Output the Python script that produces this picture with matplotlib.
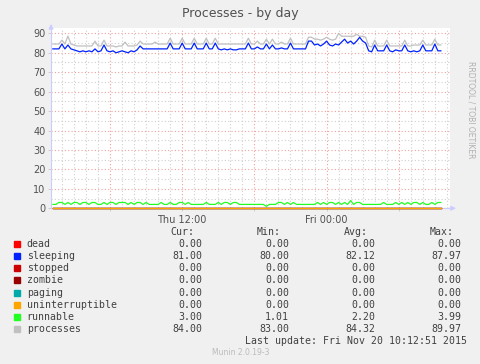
import matplotlib
matplotlib.use('Agg')
import matplotlib.pyplot as plt
import matplotlib.dates as mdates
import pandas as pd

# 15 minute samples
times = pd.date_range('2015-11-19 01:15', periods=130, freq='15min')

sleeping = [
    82, 82, 82, 84.5, 82, 84, 82, 81.5, 81, 80.5,
    81, 80.5, 81, 80.5, 82, 80.5, 81, 84, 81, 80.5,
    81, 80, 80.5, 81, 80.5, 80, 81, 80.5, 81.5, 83.5,
    82, 82, 82, 82, 82, 82, 82, 82, 82, 85,
    82, 82, 82, 85, 82, 82, 82, 85, 82, 82,
    82, 85, 82, 82, 85, 82, 81.5, 82, 81.5, 82,
    81.5, 81.5, 82, 82, 82, 85, 82, 82, 83, 82,
    82, 84.5, 82, 84, 82, 82, 82.5, 82, 82, 85,
    82, 82, 82, 82, 82, 86, 86, 84, 84.5, 83.5,
    84.5, 86, 84, 83.5, 84.5, 84, 85.5, 87, 85, 86,
    84.5, 86, 87.97, 86, 85, 81, 80.5, 84, 81, 81,
    81, 84, 81, 80.5, 81.5, 81, 81, 84, 81, 80.5,
    81, 80.5, 81, 84, 81, 81, 81, 84.5, 81, 81,
]

runnable = [
    2, 2, 3, 3, 2, 3, 2, 3, 3, 2,
    3, 3, 2, 3, 3, 2, 2, 3, 2, 3,
    3, 2, 3, 3, 3, 2, 3, 2, 3, 3,
    2, 3, 2, 2, 2, 2, 3, 2, 2, 3,
    2, 2, 3, 3, 2, 3, 2, 2, 2, 2,
    2, 3, 2, 2, 2, 3, 2, 3, 3, 2,
    3, 3, 2, 2, 2, 2, 2, 2, 2, 2,
    2, 1.01, 2, 2, 2, 3, 3, 2, 3, 2,
    3, 2, 2, 2, 2, 2, 2, 2, 3, 2,
    3, 2, 3, 3, 2, 3, 2, 3, 2, 3.99,
    2, 3, 3, 2, 2, 2, 2, 2, 2, 2,
    3, 2, 2, 2, 3, 2, 3, 2, 3, 2,
    3, 3, 2, 3, 2, 2, 3, 2, 3, 3,
]

processes = [
    84.5, 84.5, 84.5, 86.5, 84.5, 88.6, 84.5, 84, 83.5, 83.5,
    83.5, 83.5, 83.5, 83.5, 86, 83.5, 83.5, 86.5, 83.5, 83.5,
    83.5, 83, 83.5, 83.5, 85.5, 83.5, 83.5, 83.5, 84, 86,
    84.5, 84.5, 84.5, 84.5, 85.5, 84.5, 84.5, 84.5, 84.5, 87.5,
    84.5, 84.5, 84.5, 87.5, 84.5, 84.5, 84.5, 87.5, 84.5, 84.5,
    84.5, 87.5, 84.5, 84.5, 87.5, 84.5, 84.5, 84.5, 84.5, 84.5,
    84.5, 84.5, 84.5, 84.5, 84.5, 87.5, 84.5, 84.5, 86, 84.5,
    84.5, 87, 84.5, 87, 84.5, 84.5, 85.5, 84.5, 84.5, 87.5,
    84.5, 84.5, 84.5, 84.5, 84.5, 88, 88, 87, 87, 86.5,
    87, 88, 87, 86.5, 87, 89.97, 88.5, 88.5, 88.5, 88.5,
    88.5, 89.5, 88.5, 88.5, 88, 83.5, 83, 86.5, 83.5, 83.5,
    83.5, 86.5, 83.5, 83.5, 83.5, 83.5, 83.5, 86.5, 83.5, 83.5,
    84, 84, 84, 86.5, 84, 84, 84, 87, 84, 84,
]

# dead, stopped, zombie, paging, uninterruptible stay at 0 all day
zeros = [0.0] * 130

names = ['dead', 'sleeping', 'stopped', 'zombie', 'paging',
         'uninterruptible', 'runnable', 'processes']
colors = ['#FF0000', '#0022FF', '#CC0000', '#990000', '#00AAAA',
          '#FFA500', '#22FF22', '#C0C0C0']
cur = ['0.00', '81.00', '0.00', '0.00', '0.00', '0.00', '3.00', '84.00']
mins = ['0.00', '80.00', '0.00', '0.00', '0.00', '0.00', '1.01', '83.00']
avgs = ['0.00', '82.12', '0.00', '0.00', '0.00', '0.00', '2.20', '84.32']
maxs = ['0.00', '87.97', '0.00', '0.00', '0.00', '0.00', '3.99', '89.97']

series = [zeros, sleeping, zeros, zeros, zeros, zeros, runnable, processes]

W, H = 481, 364
fig = plt.figure(figsize=(W / 100, H / 100), dpi=100, facecolor='#F0F0F0')
ax = fig.add_axes([51 / W, 1 - 208.3 / H, 399 / W, 180.8 / H], facecolor='white')

# gray lines behind, blue on top like rrdtool
order = [7, 1, 0, 2, 3, 4, 5, 6]
for k in order:
    ax.plot(times, series[k], color=colors[k], lw=0.9, clip_on=False, zorder=3)

ax.set_ylim(0, 93)
ax.set_xlim(pd.Timestamp('2015-11-19 01:05:40'), pd.Timestamp('2015-11-20 10:15:40'))

ax.set_yticks(range(0, 91, 10))
ax.set_yticks(range(5, 90, 10), minor=True)
ax.xaxis.set_major_locator(mdates.HourLocator(byhour=range(0, 24, 6)))
ax.xaxis.set_minor_locator(mdates.HourLocator())


def fmt(x, pos):
    d = mdates.num2date(x)
    if d.hour in (0, 12):
        return d.strftime('%a %H:%M')
    return ''


ax.xaxis.set_major_formatter(plt.FuncFormatter(fmt))

dot = (0, (1, 2))
ax.grid(True, which='major', color='#F0A0A0', ls=dot, lw=0.8, zorder=1)
ax.grid(True, which='minor', color='#D0D0D0', ls=dot, lw=0.8, zorder=1)
ax.set_axisbelow(True)

ax.tick_params(which='both', length=2, width=0.6, color='#C8C8C8',
               labelsize=7, labelcolor='#505050', pad=2)
ax.tick_params(which='minor', length=0)
ax.tick_params(axis='x', pad=3)

for s in ['top', 'right']:
    ax.spines[s].set_visible(False)
for s in ['left', 'bottom']:
    ax.spines[s].set_color('#CCCCFF')
    ax.spines[s].set_linewidth(0.8)

ax.annotate('', xy=(0, 1.035), xytext=(0, 0.99), xycoords='axes fraction',
            arrowprops=dict(arrowstyle='-|>', color='#CCCCFF', lw=0.8,
                            mutation_scale=7))
ax.annotate('', xy=(1.022, 0), xytext=(0.99, 0), xycoords='axes fraction',
            arrowprops=dict(arrowstyle='-|>', color='#CCCCFF', lw=0.8,
                            mutation_scale=7))

fig.text(240 / W, 1 - 14 / H, 'Processes - by day', ha='center', va='center',
         fontsize=9, color='#505050')
fig.text(471 / W, 1 - 110 / H, 'RRDTOOL / TOBI OETIKER', rotation=270,
         ha='center', va='center', fontsize=5.5, color='#B0B0B0')

# legend table
mono = dict(family='DejaVu Sans Mono', fontsize=7.1, color='#404040', va='center')
col_right = [202.3, 289.0, 375.7, 461.7]
heads = ['Cur:', 'Min:', 'Avg:', 'Max:']
for xr, h in zip(col_right, heads):
    fig.text((xr - 8) / W, 1 - 232.3 / H, h, ha='right', **mono)

for i, name in enumerate(names):
    y = 244.3 + 12.06 * i
    fig.patches.append(plt.Rectangle(((14) / W, 1 - (y + 3) / H), 6 / W, 6 / H,
                                     transform=fig.transFigure, color=colors[i]))
    fig.text(26.7 / W, 1 - y / H, name, ha='left', **mono)
    for xr, col in zip(col_right, [cur, mins, avgs, maxs]):
        fig.text(xr / W, 1 - y / H, col[i], ha='right', **mono)

fig.text(466.7 / W, 1 - 340.7 / H, 'Last update: Fri Nov 20 10:12:51 2015',
         ha='right', **mono)
fig.text(240.7 / W, 1 - 352.7 / H, 'Munin 2.0.19-3', ha='center', va='center',
         fontsize=5.5, color='#BBBBBB')

fig.savefig('out.png', dpi=100, facecolor=fig.get_facecolor())
